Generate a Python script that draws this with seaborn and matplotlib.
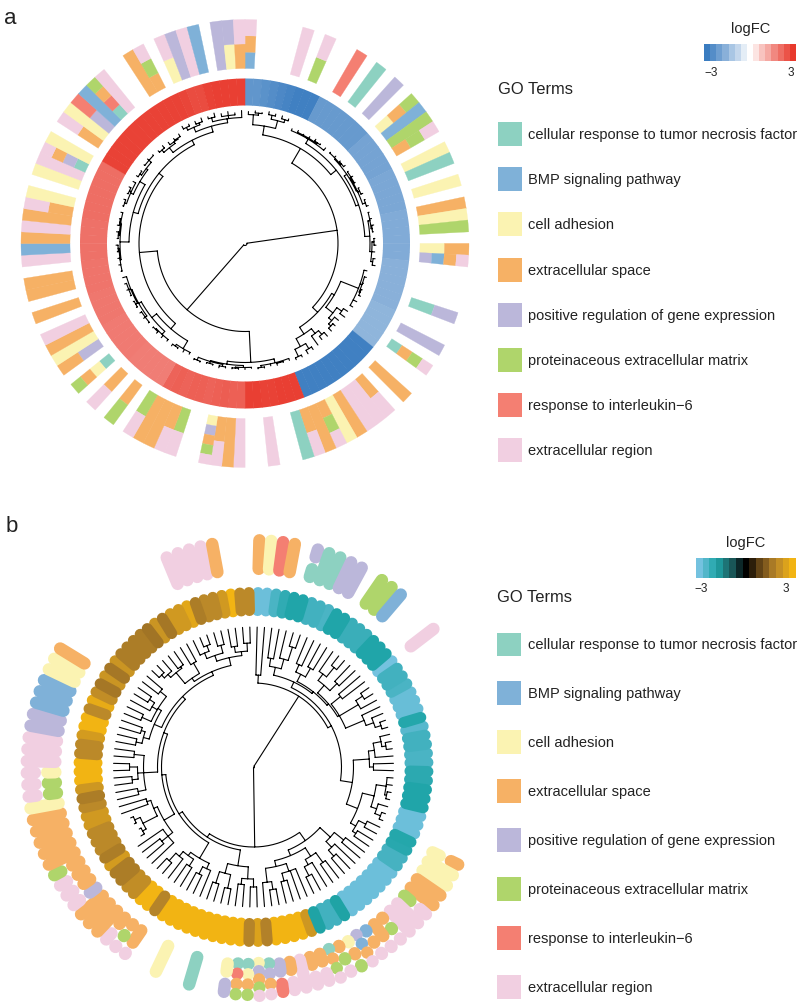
#!/usr/bin/env python
"""Two circular GO term dendrogram heatmaps (logFC ring + term annotation ring)."""

from itertools import groupby

import matplotlib
matplotlib.use("Agg")
import matplotlib.pyplot as plt
import numpy as np
import seaborn as sns

GO_TERMS = [
    "cellular response to tumor necrosis factor",
    "BMP signaling pathway",
    "cell adhesion",
    "extracellular space",
    "positive regulation of gene expression",
    "proteinaceous extracellular matrix",
    "response to interleukin\u22126",
    "extracellular region",
]
TERM_CODES = ["c", "b", "y", "o", "p", "g", "r", "k"]
TERM_COLORS = ["#8dd1c1", "#7fb1d8", "#fbf3b2", "#f6b165", "#bbb7da", "#afd56b", "#f47f72", "#f1cfe1"]

# genes clockwise from 12 o'clock; letters run from the inner to the outer edge
TERMS_A = [
    "bok", "", "", "", "", "k", "", "gk", "", "",
    "r", "", "c", "", "p", "", "yog", "b", "g", "ogk",
    "", "y", "c", "", "y", "", "o", "y", "g", "",
    "yo", "pbok", "", "", "", "", "cp", "", "", "p",
    "", "cogk", "", "", "o", "", "ok", "k", "k", "o",
    "y", "ogk", "o", "ok", "c", "", "", "k", "", "",
    "k", "o", "ok", "ypogk", "", "", "gk", "ok", "o", "o",
    "gk", "", "og", "", "ok", "", "cyog", "", "po", "y",
    "o", "k", "", "o", "", "o", "o", "", "k", "b",
    "o", "k", "o", "ok", "y", "", "y", "k", "cpok", "y",
    "", "ok", "y", "pr", "b", "crog", "k", "", "", "o",
    "ogk", "", "yk", "p", "k", "b", "", "p", "yp", "ok",
]
TERMS_B = [
    "o", "y", "r", "o", "", "cp", "c", "c", "p", "p",
    "", "g", "g", "b", "", "", "", "k", "", "",
    "", "", "", "", "", "", "", "", "", "",
    "", "", "", "", "", "", "", "", "yo", "y",
    "y", "o", "o", "gk", "k", "k", "ogk", "ook", "bok", "pbok",
    "yog", "ogk", "cogk", "ok", "ok", "k", "ok", "pr", "cpok", "ypogk",
    "cyog", "crog", "yp", "", "", "c", "", "", "y", "",
    "", "ook", "ogk", "ok", "o", "o", "o", "pk", "ok", "ok",
    "og", "o", "o", "o", "o", "o", "y", "gk", "gk", "yk",
    "k", "k", "k", "p", "p", "b", "b", "b", "y", "y",
    "o", "", "", "", "", "", "", "", "", "",
    "", "", "k", "k", "k", "k", "o", "", "", "",
]

LOGFC_A = [
    -2.4, -2.4, -2.5, -2.6, -2.7, -2.8, -2.9, -2.9, -2.9, -2.3,
    -2.3, -2.3, -2.3, -2.3, -2.3, -2.3, -2.1, -2.1, -2.1, -2.1,
    -2.1, -2.0, -2.0, -2.0, -2.0, -2.0, -1.9, -1.9, -1.9, -1.9,
    -1.9, -1.9, -1.8, -1.8, -1.8, -1.8, -1.8, -1.8, -1.7, -1.7,
    -1.7, -1.7, -1.7, -2.9, -2.9, -2.9, -2.9, -2.9, -2.9, -2.9,
    -2.9, -2.9, -2.9, 2.9, 2.9, 2.9, 2.85, 2.85, 2.9, 2.9,
    2.4, 2.4, 2.45, 2.4, 2.35, 2.4, 2.4, 2.35, 2.4, 2.35,
    1.95, 1.95, 1.95, 1.95, 1.95, 2.0, 2.0, 2.0, 2.0, 2.0,
    2.05, 2.05, 2.05, 2.05, 2.1, 2.1, 2.1, 2.1, 2.15, 2.15,
    2.15, 2.15, 2.15, 2.2, 2.2, 2.2, 2.2, 2.2, 2.2, 2.2,
    2.85, 2.85, 2.85, 2.85, 2.85, 2.85, 2.85, 2.85, 2.85, 2.85,
    2.85, 2.85, 2.8, 2.7, 2.7, 2.85, 2.9, 2.9, 2.9, 2.9,
]
LOGFC_B = [
    -2.9, -2.9, -2.5, -2.2, -2.0, -2.0, -2.4, -2.4, -2.5, -2.0,
    -2.0, -2.3, -2.3, -2.3, -2.0, -2.0, -2.0, -3.0, -2.4, -2.4,
    -2.5, -2.85, -2.85, -2.85, -2.05, -2.65, -2.4, -2.4, -2.5, -2.5,
    -2.15, -2.15, -2.0, -2.0, -2.0, -2.9, -2.9, -2.9, -2.05, -2.1,
    -2.45, -2.45, -2.9, -2.9, -2.9, -2.9, -2.9, -2.9, -2.9, -1.95,
    -2.4, -2.4, -1.95, 2.35, 3.0, 3.0, 3.0, 3.0, 1.9, 2.6,
    1.95, 3.0, 3.0, 3.0, 3.0, 3.0, 3.0, 3.0, 3.0, 3.0,
    3.0, 1.95, 3.0, 3.0, 2.15, 2.15, 1.85, 1.85, 2.45, 1.85,
    2.05, 2.05, 2.05, 2.4, 2.4, 2.05, 1.85, 2.35, 3.0, 3.0,
    3.0, 2.05, 2.05, 2.45, 3.0, 3.0, 2.05, 2.8, 2.15, 1.75,
    2.3, 1.75, 2.3, 1.85, 1.85, 1.85, 1.85, 1.7, 2.3, 1.75,
    2.4, 2.4, 2.7, 1.85, 2.05, 2.05, 2.4, 3.0, 2.05, 2.05,
]

# dendrograms: [node radius, child, child, ...], a plain number is a tip radius
TREE_A = [2,
    [93,
        [110,
            [119, [129, 132, [131, 133, 132]], [127, [131, 134, 133], [130, 133, 132]]],
            [117,
                [122, 124, [123, 125, 124, 125, [124, 126, 125]], 125],
                [120,
                    [123, [124, 125, 126, [125, 126, 127]],
                     [124, [125, 126, 127, 126], [126, 127, 128], [127, 128, 129]]],
                    [125, [127, 128, 129, [128, 130, 129]], [127, [129, 130, 131], 130, [129, 131, 132]]],
                ],
            ],
        ],
        [100,
            [103, [122, 125, [124, 126, 125, [125, 126, 127]], 126, 125],
             [112, [118, 123, 124], [116, 121, [119, 122, 123]]]],
            [108, [114, [119, 124, 123], 125], [117, [123, 126, 127], [125, 127, 127]]],
        ],
    ],
    [88,
        [119,
            [123, 125, [124, 125, 126], 125, [125, 126, 126]],
            [122, [124, 125, 126, [125, 126, 126]], [123, [125, 126, 127], [125, 126, 126], [126, 127, 127]]],
        ],
        [106,
            [113,
                [122, 124, 125, [124, 125, 126]],
                [119, [123, 125, 126, [124, 126, 125]],
                 [122, [124, 125, 126, 126], [123, [125, 126, 126], [125, 126, 127, 127], 127]]],
            ],
            [111,
                [116,
                    [125, [126, 127, 128, 128, [127, 128, 129]], [126, [127, 128, 129], [127, 129, 128], 128]],
                    [122, [125, [127, 128, 129], [127, 128, 129], 128], [124, [126, 128, 127], [127, 128, 129, 128]]],
                ],
                [116,
                    [122, [125, 127, 128], [124, 127, [125, 127, 128]]],
                    [122, [127, [130, 133, 132], [129, 132, 133]], [126, [130, 132, 134], [129, 132, 133, 131], 133]],
                ],
            ],
        ],
    ],
]

T = 140
TREE_B = [1,
    [84,
        [92, T, T],
        [88,
            [94,
                [102, [110, T, T], [112, T, [126, T, T]]],
                [96,
                    [104, [112, T, T], [114, T, T]],
                    [98,
                        [108, [116, T, [128, T, T]], [118, T, T]],
                        [100, [112, T, T], [122, [130, T, T], T], [120, T, [128, T, [134, T, T]]]],
                    ],
                ],
            ],
            [100,
                [116, [122, [130, T, [134, T, T]], T], [120, T, T]],
                [112, [124, [134, T, T, [136, T, T]], [130, T, [136, T, T]]], [118, [126, T, T], [122, T, T]]],
            ],
        ],
    ],
    [80,
        [90,
            [104, [116, T, T], [112, T, [120, T, T]]],
            [96, [106, [118, T, T], [112, T, [122, T, T]]], [102, [110, T, T, [118, T, T]], [116, [124, T, T], T]]],
        ],
        [84,
            [100, [112, [120, T, T], [118, T, T]], [110, [124, T, T], [122, T, T]]],
            [88,
                [106, [112, T, [120, T, T]], [110, [118, T, T], [116, T, [126, T, T]]]],
                [92,
                    [104, [110, T, [118, T, T], T], [108, [124, [128, 132, 130], [130, 132, 133]], [112, T, T]]],
                    [96,
                        [110, [118, T, T], [116, [122, T, T], [124, T, T]], [120, T, T]],
                        [100,
                            [108, [114, [120, T, T], [118, T, T]], [112, [122, T, T], [118, T, [124, T, T]], [120, T, T]]],
                            [104,
                                [108, [122, [126, [130, T, T], T], [124, T, T]], [120, T, T]],
                                [112, [118, [124, T, [130, T, T]], [126, T, T]], [116, [122, T, T], [124, T, T]]],
                            ],
                        ],
                    ],
                ],
            ],
        ],
    ],
]

CBAR_LEVELS_A = [-3, -2.6, -2.2, -1.8, -1.3, -0.9, -0.4, 0, 0.4, 0.9, 1.3, 1.8, 2.2, 2.6, 3]
CBAR_LEVELS_B = [-3, -2.6, -2.2, -1.8, -1.3, -0.9, -0.4, 0, 0.4, 0.9, 1.3, 1.8, 2.2, 2.6, 3]

W, H = 800, 1004
RMAX = 236
RING_LW = 8.0
TERM_LW = 9.0

sns.set_theme(style="white")
plt.rcParams["font.family"] = ["Liberation Sans", "DejaVu Sans"]

CMAP_A = sns.blend_palette(["#3a7cc0", "#ffffff", "#e8392c"], as_cmap=True)
CMAP_B = sns.blend_palette(
    ["#74c2df", "#1fa5a8", "#1c5f60", "#000000", "#6b4a18", "#b8862a", "#f2b413"], as_cmap=True
)
color_of = dict(zip(TERM_CODES, TERM_COLORS))


def px_rect(left, top, width, height):
    return [left / W, 1 - (top + height) / H, width / W, height / H]


def polar_panel(fig, cx, cy):
    ax = fig.add_axes(px_rect(cx - RMAX, cy - RMAX, 2 * RMAX, 2 * RMAX), projection="polar")
    ax.set_theta_zero_location("N")
    ax.set_theta_direction(-1)
    ax.set_ylim(0, RMAX)
    ax.set_axis_off()
    return ax


def count_tips(node):
    if not isinstance(node, list):
        return 1
    return sum(count_tips(child) for child in node[1:])


def walk_tree(node, slot, seen, ths, rs):
    if not isinstance(node, list):
        theta = (seen[0] + 0.5) * slot
        seen[0] += 1
        return theta, node
    radius = node[0]
    kids = [walk_tree(child, slot, seen, ths, rs) for child in node[1:]]
    for theta, kid_r in kids:
        ths += [theta, theta, np.nan]
        rs += [radius, kid_r, np.nan]
    arc = np.linspace(kids[0][0], kids[-1][0], 40)
    ths += list(arc) + [np.nan]
    rs += [radius] * 40 + [np.nan]
    return (kids[0][0] + kids[-1][0]) / 2, radius


def draw_tree(ax, tree):
    ths, rs = [], []
    walk_tree(tree, 2 * np.pi / count_tips(tree), [0], ths, rs)
    ax.plot(ths, rs, color="black", lw=0.8, solid_capstyle="round")


def draw_panel_a(ax):
    slot = 2 * np.pi / len(LOGFC_A)
    theta = (np.arange(len(LOGFC_A)) + 0.5) * slot
    colors = [CMAP_A((v + 3) / 6) for v in LOGFC_A]
    ax.bar(theta, 27, width=slot * 1.06, bottom=138, color=colors, linewidth=0)
    for i, terms in enumerate(TERMS_A):
        if not terms:
            continue
        step = 49 / len(terms)
        for j, code in enumerate(terms):
            ax.bar(theta[i], step, width=slot * 1.02, bottom=175 + j * step,
                   color=color_of[code], edgecolor=color_of[code], linewidth=0.2)
    draw_tree(ax, TREE_A)


def pill(ax, theta, r0, r1, color, lw):
    half = lw / 0.72 / 2
    lo, hi = r0 + half, r1 - half
    if hi <= lo:
        lo, hi = (r0 + r1) / 2 - 0.01, (r0 + r1) / 2 + 0.01
    ax.plot([theta, theta], [lo, hi], color=color, lw=lw, solid_capstyle="round")


def draw_panel_b(ax):
    slot = 2 * np.pi / len(LOGFC_B)
    theta = (np.arange(len(LOGFC_B)) + 0.5) * slot
    # lighter cells first so the darker stripes keep their round ends
    for i in sorted(range(len(LOGFC_B)), key=lambda k: -abs(LOGFC_B[k])):
        pill(ax, theta[i], 151, 180, CMAP_B((LOGFC_B[i] + 3) / 6), RING_LW)
    for i, terms in enumerate(TERMS_B):
        if not terms:
            continue
        step = 41 / len(terms)
        start = 0
        for code, run in groupby(terms):
            n = len(list(run))
            pill(ax, theta[i], 192 + start * step, 192 + (start + n) * step, color_of[code], TERM_LW)
            start += n
    draw_tree(ax, TREE_B)


def colorbar(fig, rect, levels, cmap):
    cax = fig.add_axes(px_rect(*rect))
    sns.heatmap(np.array([levels]), cmap=cmap, vmin=-3, vmax=3, cbar=False,
                xticklabels=False, yticklabels=False, ax=cax)
    cax.set_xlabel("")
    cax.set_ylabel("")


def go_legend(ov, title_y, first_y, step, swatch_x, text_x):
    ys = [first_y + i * step for i in range(len(GO_TERMS))]
    sns.scatterplot(x=[swatch_x + 12] * len(ys), y=ys, hue=GO_TERMS, hue_order=GO_TERMS,
                    palette=TERM_COLORS, marker="s", s=298, linewidth=0, legend=False, ax=ov)
    ov.text(swatch_x, title_y, "GO Terms", fontsize=11.9, va="center", ha="left", color="#222222")
    for y, label in zip(ys, GO_TERMS):
        ov.text(text_x, y, label, fontsize=10.55, va="center", ha="left", color="#222222")


def main():
    fig = plt.figure(figsize=(W / 100, H / 100), dpi=100)
    draw_panel_a(polar_panel(fig, 245, 244.5))
    draw_panel_b(polar_panel(fig, 253.5, 768))

    colorbar(fig, (704, 45, 92, 17), CBAR_LEVELS_A, CMAP_A)
    colorbar(fig, (696, 559, 100, 20), CBAR_LEVELS_B, CMAP_B)

    ov = fig.add_axes([0, 0, 1, 1])
    ov.set_xlim(0, W)
    ov.set_ylim(H, 0)
    ov.set_axis_off()
    ov.patch.set_alpha(0)

    go_legend(ov, 90, 135, 45.2, 498, 528)
    go_legend(ov, 598, 645.5, 48.9, 497, 528)

    ov.text(4, 18, "a", fontsize=16, va="center", ha="left", color="#222222")
    ov.text(6, 527, "b", fontsize=16, va="center", ha="left", color="#222222")
    ov.text(751, 29, "logFC", fontsize=10.5, va="center", ha="center", color="#222222")
    ov.text(746, 543, "logFC", fontsize=10.5, va="center", ha="center", color="#222222")
    ov.text(711, 73, "\u22123", fontsize=8.5, va="center", ha="center", color="#222222")
    ov.text(791, 73, "3", fontsize=8.5, va="center", ha="center", color="#222222")
    ov.text(701, 589, "\u22123", fontsize=8.5, va="center", ha="center", color="#222222")
    ov.text(786, 589, "3", fontsize=8.5, va="center", ha="center", color="#222222")

    fig.savefig("out.png", dpi=100)
    plt.close(fig)


if __name__ == "__main__":
    main()
